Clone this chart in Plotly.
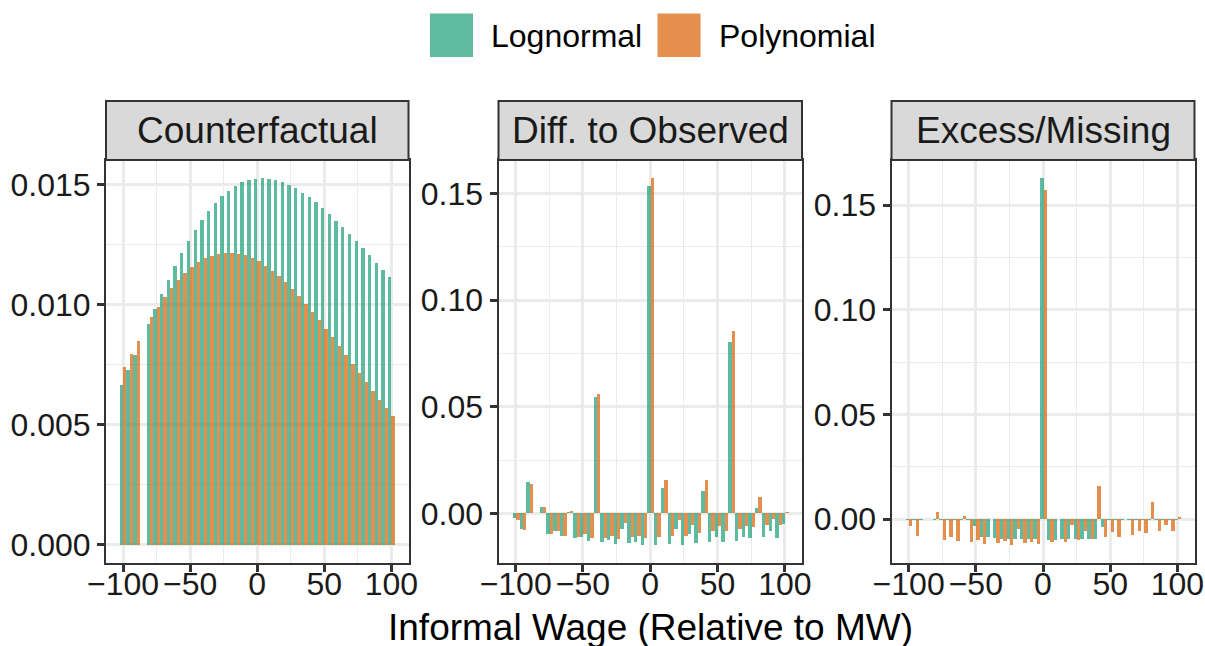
import plotly.graph_objects as go

# Wage bins relative to the minimum wage (bin width 5)
bins = list(range(-100, 105, 5))

# Counterfactual densities (bin -85 empty)
cf_lognormal = [
    0.00665, 0.00727, 0.00789, None, 0.00918, 0.00981, 0.01043, 0.01101, 0.01159,
    0.01213, 0.01263, 0.01309, 0.01350, 0.01388, 0.01421, 0.01450, 0.01471, 0.01492,
    0.01508, 0.01517, 0.01521, 0.01525, 0.01521, 0.01517, 0.01508, 0.01496, 0.01483,
    0.01463, 0.01446, 0.01425, 0.01400, 0.01375, 0.01346, 0.01321, 0.01292, 0.01263,
    0.01234, 0.01205, 0.01172, 0.01143, 0.01114,
]
cf_polynomial = [
    0.00740, 0.00794, 0.00848, None, 0.00947, 0.00989, 0.01030, 0.01068, 0.01101,
    0.01130, 0.01155, 0.01176, 0.01192, 0.01201, 0.01209, 0.01213, 0.01213, 0.01209,
    0.01205, 0.01192, 0.01180, 0.01159, 0.01138, 0.01118, 0.01093, 0.01064, 0.01035,
    0.01001, 0.00968, 0.00935, 0.00897, 0.00864, 0.00827, 0.00789, 0.00752, 0.00715,
    0.00677, 0.00640, 0.00602, 0.00569, 0.00536,
]

# Difference between observed and counterfactual density
diff_lognormal = [
    -0.0020, -0.0073, 0.0147, None, 0.0030, -0.0096, -0.0081, -0.0105, 0.0006,
    -0.0115, -0.0110, -0.0129, 0.0545, -0.0133, -0.0124, -0.0143, -0.0072, -0.0138,
    -0.0133, -0.0147, 0.1534, -0.0147, 0.0119, -0.0143, -0.0072, -0.0147, -0.0096,
    -0.0138, 0.0105, -0.0133, -0.0110, -0.0133, 0.0803, -0.0129, -0.0110, -0.0115,
    0.0025, -0.0110, -0.0082, -0.0115, -0.0049,
]
diff_polynomial = [
    -0.0030, -0.0077, 0.0138, None, 0.0030, -0.0096, -0.0081, -0.0105, 0.0011,
    -0.0110, -0.0096, -0.0115, 0.0559, -0.0115, -0.0105, -0.0120, -0.0045, -0.0110,
    -0.0105, -0.0115, 0.1572, -0.0110, 0.0156, -0.0105, -0.0030, -0.0105, -0.0054,
    -0.0090, 0.0156, -0.0082, -0.0058, -0.0082, 0.0855, -0.0072, -0.0058, -0.0063,
    0.0077, -0.0054, -0.0026, -0.0054, 0.0006,
]

# Excess / missing mass
excess_lognormal = [
    -0.0003, -0.0003, -0.0003, None, -0.0003, -0.0003, -0.0003, -0.0003, -0.0003,
    -0.0003, -0.0032, -0.0084, -0.0084, -0.0089, -0.0094, -0.0094, -0.0094, -0.0094,
    -0.0094, -0.0094, 0.1628, -0.0098, -0.0098, -0.0094, -0.0094, -0.0094, -0.0094,
    -0.0094, -0.0094, -0.0037, -0.0003, -0.0003, -0.0003, -0.0003, -0.0003, -0.0003,
    -0.0003, -0.0003, -0.0003, -0.0003, -0.0003,
]
excess_polynomial = [
    -0.0032, -0.0079, 0.0, None, 0.0033, -0.0098, -0.0084, -0.0103, 0.0014,
    -0.0108, -0.0098, -0.0117, 0.0, -0.0113, -0.0103, -0.0122, -0.0046, -0.0113,
    -0.0108, -0.0117, 0.1571, -0.0108, 0.0, -0.0108, -0.0027, -0.0098, -0.0056,
    -0.0094, 0.0157, -0.0084, -0.0060, -0.0084, 0.0, -0.0075, -0.0056, -0.0065,
    0.0081, -0.0056, -0.0027, -0.0056, 0.0010,
]

panel_titles = ["Counterfactual", "Diff. to Observed", "Excess/Missing"]
series_names = ["Lognormal", "Polynomial"]
x_ticks = [-100, -50, 0, 50, 100]
x_tick_text = ["\u2212100", "\u221250", "0", "50", "100"]
x_minor = [-75, -25, 25, 75]
y_ticks_cf = [0.0, 0.005, 0.010, 0.015]
y_tick_text_cf = ["0.000", "0.005", "0.010", "0.015"]
y_minor_cf = [0.0025, 0.0075, 0.0125]
y_ticks_diff = [0.0, 0.05, 0.10, 0.15]
y_tick_text_diff = ["0.00", "0.05", "0.10", "0.15"]
y_minor_diff = [0.025, 0.075, 0.125]

W, H = 1205, 646
FONT = "Liberation Sans, Arial, sans-serif"
colors = ["rgba(27,158,119,0.7)", "rgba(217,95,2,0.7)"]
GRID = "#EBEBEB"
DARK = "#333333"
TEXT = "#1A1A1A"

panels = [
    (cf_lognormal, cf_polynomial, y_ticks_cf, y_tick_text_cf, y_minor_cf),
    (diff_lognormal, diff_polynomial, y_ticks_diff, y_tick_text_diff, y_minor_diff),
    (excess_lognormal, excess_polynomial, y_ticks_diff, y_tick_text_diff, y_minor_diff),
]

# panel placement in pixels
px_x = [(106, 408.5), (498.5, 802), (891.5, 1194.5)]
plot_top, plot_bottom, strip_top = 160, 563, 101


def fx(p):
    return p / W


def fy(p):
    return (H - p) / H


fig = go.Figure()
half = 2.5
x_pad = (bins[-1] - bins[0] + 2 * half) * 0.05
x_range = [bins[0] - half - x_pad, bins[-1] + half + x_pad]

layout = dict(
    width=W, height=H, margin=dict(l=0, r=0, t=0, b=0, autoexpand=False),
    paper_bgcolor="white", plot_bgcolor="white",
    barmode="group", bargap=0, bargroupgap=0, showlegend=False,
    font=dict(family=FONT, color=TEXT),
)
shapes, annotations = [], []

for i, (s1, s2, yt, ytt, ym) in enumerate(panels):
    n = "" if i == 0 else str(i + 1)
    for name, vals, col in zip(series_names, (s1, s2), colors):
        fig.add_trace(go.Bar(
            x=bins, y=vals, name=name, marker=dict(color=col, line=dict(width=0)),
            xaxis="x" + n, yaxis="y" + n, offsetgroup=name,
        ))
    vals_all = [v for v in s1 + s2 if v is not None] + [0.0]
    lo, hi = min(vals_all), max(vals_all)
    pad = (hi - lo) * 0.05
    x0, x1 = px_x[i]
    axis_common = dict(
        showline=True, linecolor=DARK, linewidth=2, mirror=True,
        ticks="outside", ticklen=7, tickwidth=2.5, tickcolor=DARK,
        showgrid=True, gridcolor=GRID, gridwidth=2.5, zeroline=False,
        automargin=False,
        tickfont=dict(family=FONT, size=32, color=TEXT),
    )
    layout["xaxis" + n] = dict(
        axis_common, domain=[fx(x0), fx(x1)], anchor="y" + n, range=x_range,
        tickmode="array", tickvals=x_ticks, ticktext=x_tick_text,
        ticklabelstandoff=-15,
        minor=dict(tickvals=x_minor, showgrid=True, gridcolor=GRID, gridwidth=1.2, ticks=""),
    )
    layout["yaxis" + n] = dict(
        axis_common, domain=[fy(plot_bottom), fy(plot_top)], anchor="x" + n,
        range=[lo - pad, hi + pad], tickmode="array", tickvals=yt, ticktext=ytt,
        minor=dict(tickvals=ym, showgrid=True, gridcolor=GRID, gridwidth=1.2, ticks=""),
    )
    # facet strip
    shapes.append(dict(
        type="rect", xref="paper", yref="paper",
        x0=fx(x0), x1=fx(x1), y0=fy(plot_top), y1=fy(strip_top),
        fillcolor="#D9D9D9", line=dict(color=DARK, width=2), layer="above",
    ))
    annotations.append(dict(
        xref="paper", yref="paper", x=fx((x0 + x1) / 2), y=fy((plot_top + strip_top) / 2),
        text=panel_titles[i], showarrow=False, xanchor="center", yanchor="middle",
        font=dict(family=FONT, size=37, color=TEXT),
    ))

# shared x-axis title
annotations.append(dict(
    xref="paper", yref="paper", x=fx((px_x[0][0] + px_x[2][1]) / 2), y=fy(627),
    text="Informal Wage (Relative to MW)", showarrow=False,
    xanchor="center", yanchor="middle",
    font=dict(family=FONT, size=37, color="#000000"),
))

# legend keys on top
key_x = [(430, 473), (657.5, 700.5)]
label_x = [489, 717]
for name, col, (k0, k1), lx in zip(series_names, colors, key_x, label_x):
    shapes.append(dict(
        type="rect", xref="paper", yref="paper",
        x0=fx(k0), x1=fx(k1), y0=fy(57), y1=fy(13.5),
        fillcolor=col, line=dict(width=0),
    ))
    annotations.append(dict(
        xref="paper", yref="paper", x=fx(lx), y=fy(36), text=name, showarrow=False,
        xanchor="left", yanchor="middle",
        font=dict(family=FONT, size=32, color="#000000"),
    ))

layout["shapes"] = shapes
layout["annotations"] = annotations
fig.update_layout(**layout)
fig.write_html("out.html")
